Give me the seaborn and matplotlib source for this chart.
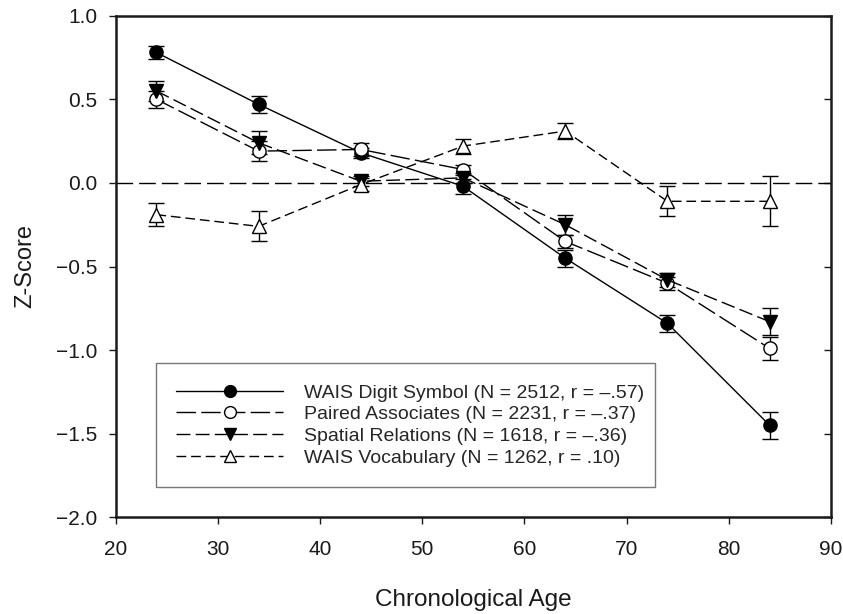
import matplotlib
matplotlib.use("Agg")
import matplotlib.pyplot as plt
import seaborn as sns
import pandas as pd
from matplotlib.lines import Line2D

# ---- data ----
ages = [24, 34, 44, 54, 64, 74, 84]
series_names = [
    "WAIS Digit Symbol (N = 2512, r = \u2013.57)",
    "Paired Associates (N = 2231, r = \u2013.37)",
    "Spatial Relations (N = 1618, r = \u2013.36)",
    "WAIS Vocabulary (N = 1262, r = .10)",
]
digit_symbol = [0.78, 0.47, 0.18, -0.02, -0.45, -0.84, -1.45]
digit_symbol_err = [0.04, 0.05, 0.03, 0.045, 0.05, 0.05, 0.08]
paired_assoc = [0.50, 0.19, 0.20, 0.08, -0.35, -0.60, -0.99]
paired_assoc_err = [0.05, 0.06, 0.04, 0.03, 0.04, 0.04, 0.07]
spatial_rel = [0.55, 0.24, 0.01, 0.03, -0.25, -0.58, -0.83]
spatial_rel_err = [0.06, 0.07, 0.03, 0.03, 0.06, 0.04, 0.08]
vocabulary = [-0.19, -0.26, -0.01, 0.22, 0.31, -0.11, -0.11]
vocabulary_err = [0.07, 0.09, 0.04, 0.045, 0.05, 0.09, 0.15]

xticks = [20, 30, 40, 50, 60, 70, 80, 90]
yticks = [-2.0, -1.5, -1.0, -0.5, 0.0, 0.5, 1.0]
ytick_labels = ["\u22122.0", "\u22121.5", "\u22121.0", "\u22120.5", "0.0", "0.5", "1.0"]
xlabel = "Chronological Age"
ylabel = "Z-Score"

values = [digit_symbol, paired_assoc, spatial_rel, vocabulary]
errors = [digit_symbol_err, paired_assoc_err, spatial_rel_err, vocabulary_err]

rows = []
for name, vals, errs in zip(series_names, values, errors):
    for a, v, e in zip(ages, vals, errs):
        rows.append({"age": a, "z": v, "err": e, "series": name})
df = pd.DataFrame(rows)

# ---- styles ----
styles = {
    series_names[0]: dict(marker="o", mfc="black", ls="-"),
    series_names[1]: dict(marker="o", mfc="white", ls=(0, (14, 3.8))),
    series_names[2]: dict(marker="v", mfc="black", ls=(0, (10, 3.8))),
    series_names[3]: dict(marker="^", mfc="white", ls=(0, (7, 3.5))),
}

sns.set_theme(style="ticks")
plt.rcParams["font.family"] = ["Liberation Sans", "DejaVu Sans"]

fig = plt.figure(figsize=(8.43, 6.14), dpi=100)
ax = fig.add_axes([115.5 / 843, 1 - 517.3 / 614, (831 - 115.5) / 843, (517.3 - 15.7) / 614])

ax.axhline(0, color="black", lw=1.0, ls=(0, (12, 4.3)), zorder=1)

handles = []
for name in series_names:
    sub = df[df["series"] == name]
    st = styles[name]
    ax.errorbar(sub["age"], sub["z"], yerr=sub["err"], fmt="none", ecolor="black",
                elinewidth=1.0, capsize=5.5, capthick=1.0, zorder=2)
    sns.lineplot(data=sub, x="age", y="z", ax=ax, color="black", lw=1.0,
                 linestyle=st["ls"], marker=st["marker"], markersize=9.5,
                 markerfacecolor=st["mfc"], markeredgecolor="black",
                 markeredgewidth=1.0, legend=False, zorder=3, errorbar=None)
    handles.append(Line2D([], [], color="black", lw=1.0, linestyle=st["ls"],
                          marker=st["marker"], markersize=8.5, markerfacecolor=st["mfc"],
                          markeredgecolor="black", markeredgewidth=1.0, label=name))

ax.set_xlim(20, 90)
ax.set_ylim(-2.0, 1.0)
ax.set_xticks(xticks)
ax.set_xticklabels([str(t) for t in xticks])
ax.set_yticks(yticks)
ax.set_yticklabels(ytick_labels)

for side in ["left", "bottom", "top", "right"]:
    ax.spines[side].set_linewidth(1.8)
    ax.spines[side].set_color("#1a1a1a")

ax.tick_params(axis="both", which="major", labelsize=15, width=1.0, length=5,
               color="#1a1a1a", labelcolor="#1a1a1a")
ax.tick_params(axis="y", pad=8, direction="out")
ax.tick_params(axis="x", pad=11, direction="out")
# right side ticks pointing inward
ax2 = ax.secondary_yaxis("right")
ax2.set_yticks(yticks)
ax2.tick_params(direction="in", length=5, width=1.0, labelright=False, color="#1a1a1a")
ax2.spines["right"].set_visible(False)

ax.set_xlabel(xlabel, fontsize=17.5, labelpad=22, color="#1a1a1a")
ax.set_ylabel(ylabel, fontsize=17, labelpad=14, color="#1a1a1a")

leg = ax.legend(handles=handles, loc="lower left",
                bbox_to_anchor=(0.0566, 0.0604, 0.697, 0.249), mode="expand",
                borderaxespad=0, fontsize=14, handlelength=5.5, handletextpad=1.05,
                labelspacing=0.21, borderpad=1.05, frameon=True, fancybox=False)
leg.get_frame().set_edgecolor("#555555")
leg.get_frame().set_linewidth(1.0)

fig.savefig("out.png", dpi=100)
